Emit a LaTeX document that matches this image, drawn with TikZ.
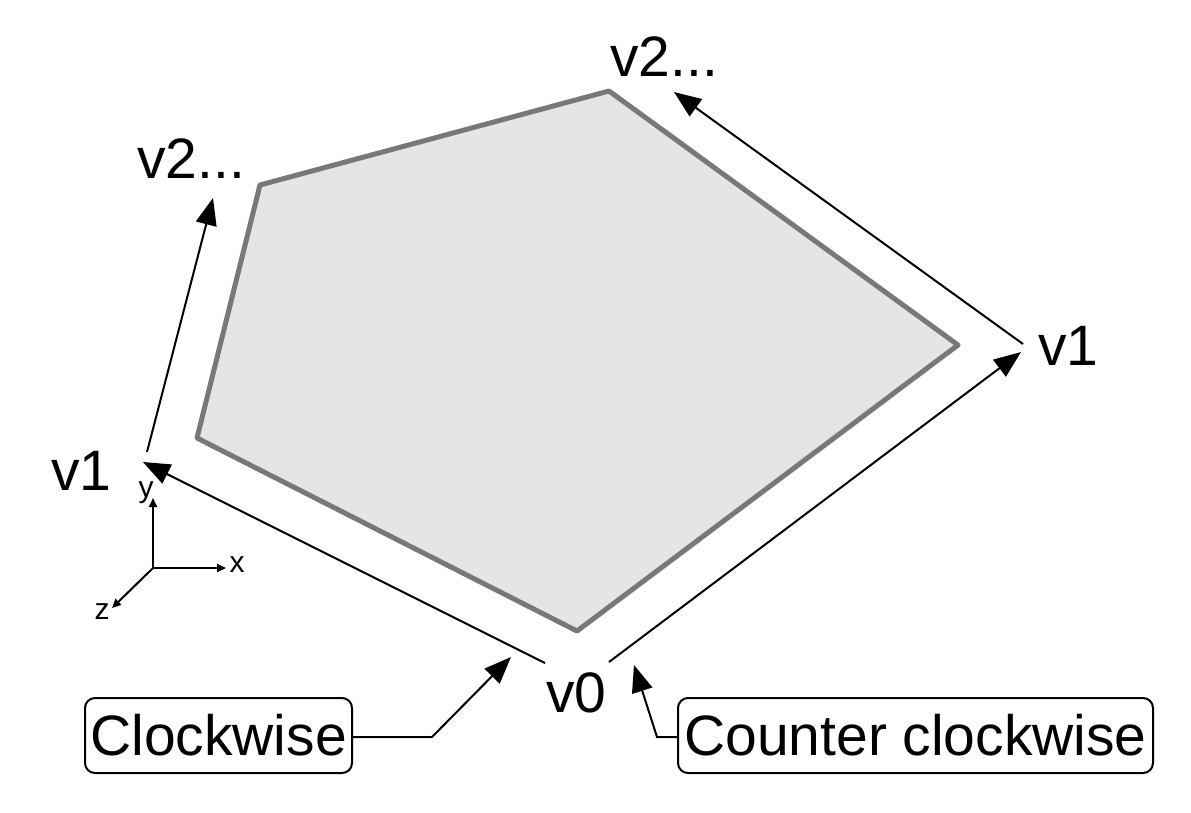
\documentclass[tikz,border=0pt]{standalone}
\usepackage{fontspec}
\setmainfont{Liberation Sans}
\usetikzlibrary{arrows.meta}
\begin{document}
\begin{tikzpicture}[x=1pt,y=-1pt,
  big/.style={font=\fontsize{57}{62}\selectfont, inner sep=0pt, anchor=base west},
  small/.style={font=\fontsize{30}{34}\selectfont, inner sep=0pt},
  arr/.style={line width=2pt, -{Triangle[length=27pt,width=21pt]}},
  axarr/.style={line width=2pt, -{Triangle[length=9pt,width=8pt]}},
  callout/.style={draw, line width=2pt, rounded corners=10pt, inner sep=0pt,
    minimum height=75pt, font=\fontsize{57}{62}\selectfont}]
\useasboundingbox (0,0) rectangle (1191,812);
% polygon
\coordinate (p1) at (197,438);
\coordinate (p2) at (260,185);
\coordinate (p3) at (609,91);
\coordinate (p4) at (958,345);
\coordinate (p5) at (577,631);
\filldraw[fill=black!10, draw=black!53, line width=5pt, line join=round]
  (p1) -- (p2) -- (p3) -- (p4) -- (p5) -- cycle;
% labels
\node[big] (v2l) at (137,178) {v2...};
\node[big] (v2t) at (610,76) {v2...};
\node[big] (v1r) at (1038,365) {v1};
\node[big] (v1l) at (51,490) {v1};
\node[big] (v0) at (546,712) {v0};
% direction arrows
\coordinate (cwS) at (545,663);
\coordinate (cwE) at (143,462);
\coordinate (cw2S) at (147,452);
\coordinate (cw2E) at (213,198);
\coordinate (ccwS) at (609,662);
\coordinate (ccwE) at (1021,352);
\coordinate (ccw2S) at (1023,344);
\coordinate (ccw2E) at (674,92);
\draw[arr] (cwS) -- (cwE);
\draw[arr] (cw2S) -- (cw2E);
\draw[arr] (ccwS) -- (ccwE);
\draw[arr] (ccw2S) -- (ccw2E);
% axes
\coordinate (o) at (153,568);
\coordinate (ay) at (153,498);
\coordinate (ax) at (226,568);
\coordinate (az) at (112,608);
\draw[axarr] (o) -- (ay);
\draw[axarr] (o) -- (ax);
\draw[axarr] (o) -- (az);
\node[small] (ly) at (146,493) {y};
\node[small] (lx) at (237,565) {x};
\node[small] (lz) at (102,612) {z};
% callouts
\node[callout, minimum width=267pt] (cw) at (218.5,735.5) {Clockwise};
\node[callout, minimum width=475pt] (ccw) at (915.5,735.5) {Counter clockwise};
\coordinate (cwB) at (432,737);
\coordinate (cwT) at (511,657);
\coordinate (ccwB) at (657,737);
\coordinate (ccwT) at (634,665);
\draw[arr] (cw.east |- cwB) -- (cwB) -- (cwT);
\draw[arr] (ccw.west |- ccwB) -- (ccwB) -- (ccwT);
\end{tikzpicture}
\end{document}
